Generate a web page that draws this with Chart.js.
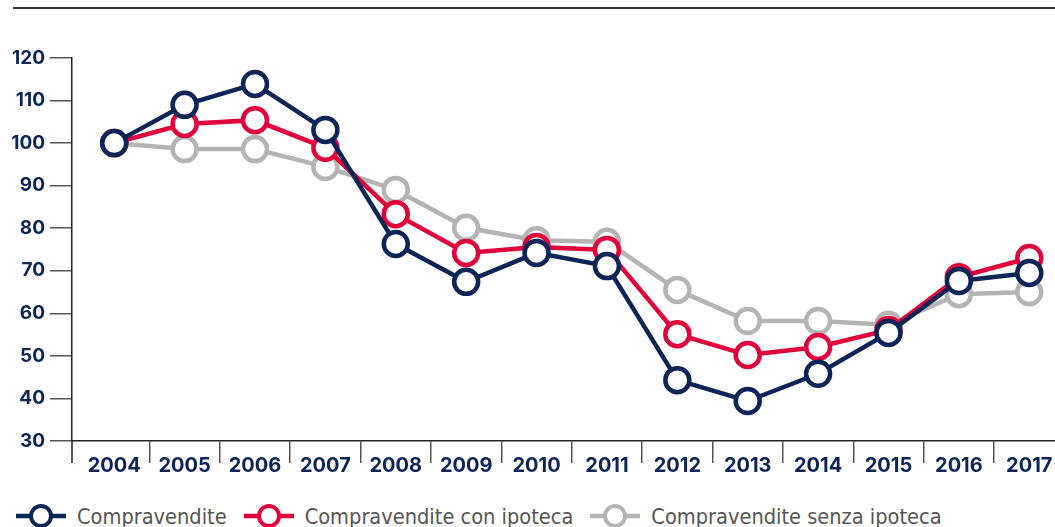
<!DOCTYPE html>
<html>
<head>
<meta charset="utf-8">
<script src="https://cdn.jsdelivr.net/npm/chart.js@4.4.0/dist/chart.umd.min.js"></script>
<style>
  html, body { margin: 0; padding: 0; background: #fff; overflow: hidden; width: 1055px; height: 527px; }
  #topline { position: absolute; left: 13px; top: 7px; width: 1050px; height: 1.5px; background: #333; }
  #wrap { position: absolute; left: 0; top: 0; }
  #legend { position: absolute; left: 16px; top: 503px; display: flex; align-items: center;
            font-family: "Liberation Sans Narrow", "DejaVu Sans Condensed", sans-serif; font-size: 21.6px; color: #555; }
  #legend .item { display: flex; align-items: center; margin-right: 17px; }
  #legend svg { margin-right: 11px; }
</style>
</head>
<body>
<div id="topline"></div>
<div id="wrap"><canvas id="lineChart" width="1088" height="480"></canvas></div>
<div id="legend"></div>
<script>
(function() {

  'use strict';

  var years = ['2004', '2005', '2006', '2007', '2008', '2009', '2010', '2011', '2012', '2013', '2014', '2015', '2016', '2017'];
  var compravendite = [100, 109, 113.9, 103.1, 76.3, 67.4, 74.2, 71.1, 44.3, 39.4, 45.8, 55.4, 67.6, 69.5];
  var conIpoteca = [100, 104.5, 105.4, 98.9, 83.3, 74.2, 75.6, 74.9, 55.1, 50.2, 52.1, 56.1, 68.5, 73];
  var senzaIpoteca = [100, 98.6, 98.6, 94.4, 89, 80.1, 77.2, 76.8, 65.5, 58.2, 58.2, 57.3, 64.5, 65];
  var seriesNames = ['Compravendite', 'Compravendite con ipoteca', 'Compravendite senza ipoteca'];
  var seriesColors = ['#0b2559', '#e1003a', '#b4b4b4'];

  var navy = '#0b2559';

  function makeSet(i, values) {
    return {
      label: seriesNames[i],
      data: values,
      borderColor: seriesColors[i],
      backgroundColor: '#fff',
      borderWidth: 4.5,
      pointRadius: 12,
      pointBorderWidth: 4.5,
      pointBackgroundColor: '#fff',
      pointBorderColor: seriesColors[i],
      tension: 0
    };
  }

  // the y axis line runs on below the x axis, like the first tick
  var axisFoot = {
    id: 'axisFoot',
    afterDraw: function(chart) {
      var a = chart.chartArea, c = chart.ctx;
      c.save();
      c.strokeStyle = '#222';
      c.lineWidth = 1.5;
      c.beginPath();
      c.moveTo(a.left, a.bottom);
      c.lineTo(a.left, a.bottom + 22);
      c.stroke();
      c.restore();
    }
  };

  var ctx = document.getElementById('lineChart').getContext('2d');
  var chart = new Chart(ctx, {
    type: 'line',
    data: {
      labels: years,
      datasets: [makeSet(0, compravendite), makeSet(1, conIpoteca), makeSet(2, senzaIpoteca)]
    },
    plugins: [axisFoot],
    options: {
      responsive: false,
      animation: false,
      layout: { padding: { top: 58, right: 0, left: 0, bottom: 0 } },
      plugins: { legend: { display: false }, tooltip: { enabled: false } },
      scales: {
        x: {
          type: 'linear',
          min: 2003.4,
          max: 2017.6,
          afterBuildTicks: function(s) {
            s.ticks = years.map(function(y) { return { value: +y }; });
          },
          grid: {
            offset: true,
            drawOnChartArea: false,
            tickLength: 22,
            lineWidth: 1.5,
            color: function(c) { return c.index === 0 ? 'rgba(0,0,0,0)' : '#555'; }
          },
          border: { display: true, color: '#222', width: 1.5 },
          ticks: {
            color: navy,
            padding: -9,
            maxRotation: 0,
            autoSkip: false,
            font: { family: 'Inter', size: 20, weight: 'bold' },
            callback: function(v) { return String(v); }
          },
          afterFit: function(s) { s.height = 39; }
        },
        y: {
          min: 30,
          max: 120,
          ticks: { stepSize: 10, color: navy, padding: 5, font: { family: 'Inter', size: 19, weight: 'bold' } },
          grid: { drawOnChartArea: false, tickLength: 22, color: '#555', lineWidth: 1.5 },
          border: { display: true, color: '#222', width: 1.5 },
          afterFit: function(s) { s.width = 72; }
        }
      }
    }
  });

  // html legend with line + open circle markers
  var legend = document.getElementById('legend');
  chart.data.datasets.forEach(function(ds) {
    var item = document.createElement('div');
    item.className = 'item';
    item.innerHTML =
      '<svg width="50" height="26"><line x1="0" y1="13" x2="50" y2="13" stroke="' + ds.borderColor +
      '" stroke-width="4.5"/><circle cx="25" cy="13" r="10" fill="#fff" stroke="' + ds.borderColor +
      '" stroke-width="4"/></svg><span>' + ds.label + '</span>';
    legend.appendChild(item);
  });

})();
</script>
</body>
</html>
